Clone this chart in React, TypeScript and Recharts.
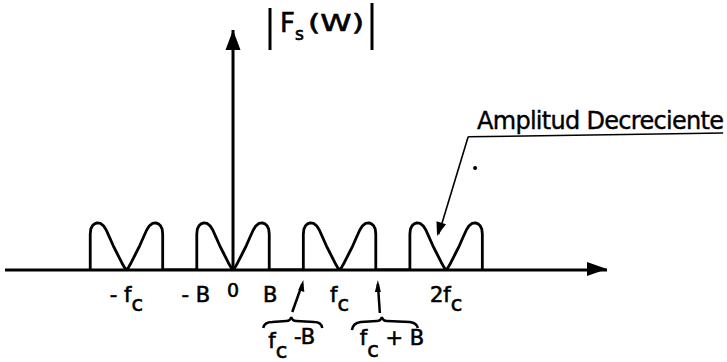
import { ComposedChart, Line, XAxis, YAxis, ReferenceLine, ReferenceDot } from "recharts";

// frequency axis in units of fc, amplitude in units of one lobe peak
const B = 0.35;
const harmonics = [-1, 0, 1, 2];

// left half of one lobe pair (offset from the harmonic, height)
const lobeOffsets = [-0.34, -0.34, -0.335, -0.32, -0.3, -0.275, -0.244, -0.215, -0.19, -0.16, -0.125, -0.085, -0.045, -0.018, 0];
const lobeHeights = [0, 0.76, 0.87, 0.94, 0.98, 1, 0.99, 0.94, 0.85, 0.7, 0.52, 0.34, 0.16, 0.05, 0];

const tickValues = [-1, -B, 0, B, 1 - B, 1, 1 + B, 2];
const tickMain = ["- f", "- B", "0", "B", "f", "f", "f", "2f"];
const tickSub = ["c", "", "", "", "c", "c", "c", "c"];
const tickTail = ["", "", "", "", " -B", "", " + B", ""];

const xDomain = [-2.14, 3.51];
const yDomain = [0, 5.1];

type Pt = { x: number; y: number };
const spectrum: Pt[] = [];
harmonics.forEach((c) => {
  lobeOffsets.forEach((o, i) => spectrum.push({ x: c + o, y: lobeHeights[i] }));
  for (let i = lobeOffsets.length - 2; i >= 0; i--) {
    spectrum.push({ x: c - lobeOffsets[i], y: lobeHeights[i] });
  }
});

const font = "'DejaVu Sans', sans-serif";
const ink = { fill: "#000", stroke: "#000", strokeWidth: 0.6 };

function Tick(props: any) {
  const { x, y, payload, index } = props;
  const i = typeof index === "number" ? index : tickValues.indexOf(payload.value);
  const main = tickMain[i];
  const sub = tickSub[i];
  const tail = tickTail[i];
  if (tail) {
    const minus = tail.includes("-");
    return (
      <g fontFamily={font} fill="#000">
        {minus ? (
          <>
            <line x1={x - 10} y1={y + 42} x2={x} y2={y + 14} stroke="#000" strokeWidth={2.5} />
            <polygon points={`${x + 1},${y + 10} ${x - 4},${y + 20} ${x + 2},${y + 22}`} />
            <path
              d={`M ${x - 39} ${y + 58} Q ${x - 38} ${y + 52} ${x - 30} ${y + 52} L ${x - 16} ${y + 51} Q ${x - 12} ${y + 51} ${x - 11} ${y + 47} Q ${x - 10} ${y + 51} ${x - 6} ${y + 51} L ${x + 12} ${y + 52} Q ${x + 19} ${y + 52} ${x + 20} ${y + 58}`}
              fill="none"
              stroke="#000"
              strokeWidth={2.5}
            />
            <text x={x - 34} y={y + 78} fontSize={21} {...ink}>
              {main}
              <tspan dy={10}>{sub}</tspan>
              <tspan dy={-14}>{tail}</tspan>
            </text>
          </>
        ) : (
          <>
            <line x1={x + 3} y1={y + 43} x2={x + 1} y2={y + 14} stroke="#000" strokeWidth={2.5} />
            <polygon points={`${x + 1},${y + 10} ${x - 2},${y + 22} ${x + 4},${y + 22}`} />
            <path
              d={`M ${x - 25} ${y + 60} Q ${x - 24} ${y + 53} ${x - 16} ${y + 52} L ${x} ${y + 51} Q ${x + 4} ${y + 51} ${x + 5} ${y + 47} Q ${x + 6} ${y + 51} ${x + 10} ${y + 51} L ${x + 33} ${y + 52} Q ${x + 40} ${y + 53} ${x + 41} ${y + 58}`}
              fill="none"
              stroke="#000"
              strokeWidth={2.5}
            />
            <text x={x - 17} y={y + 75} fontSize={21} {...ink}>
              {main}
              <tspan dy={12}>{sub}</tspan>
              <tspan dy={-12}>{tail}</tspan>
            </text>
          </>
        )}
      </g>
    );
  }
  return (
    <text
      x={x}
      y={main === "0" ? y + 27 : y + 32}
      textAnchor="middle"
      fontFamily={font}
      fontSize={main === "0" ? 19 : 21}
      {...ink}
    >
      {main}
      {sub ? <tspan dy={9}>{sub}</tspan> : null}
    </text>
  );
}

const upArrow = (p: any) => (
  <polygon points={`${p.cx},${p.cy} ${p.cx - 7.5},${p.cy + 20} ${p.cx + 7.5},${p.cy + 20}`} fill="#000" />
);
const rightArrow = (p: any) => (
  <polygon points={`${p.cx},${p.cy - 1} ${p.cx - 20},${p.cy - 8} ${p.cx - 20},${p.cy + 6}`} fill="#000" />
);
const leaderArrow = (p: any) => (
  <polygon
    points="0,0 -14,-5 -14,5"
    transform={`translate(${p.cx},${p.cy}) rotate(107.4)`}
    fill="#000"
  />
);

export default function App() {
  return (
    <div style={{ position: "relative", width: 727, height: 362, background: "#fff" }}>
      <style>{`body{margin:0}`}</style>
      <ComposedChart
        width={727}
        height={362}
        data={spectrum}
        margin={{ top: 30, right: 120, bottom: 0, left: 5 }}
      >
        <XAxis
          type="number"
          dataKey="x"
          domain={xDomain}
          allowDataOverflow
          ticks={tickValues}
          interval={0}
          tick={<Tick />}
          tickLine={false}
          tickSize={0}
          tickMargin={0}
          height={92}
          axisLine={{ stroke: "#000", strokeWidth: 3 }}
        />
        <YAxis type="number" domain={yDomain} hide allowDataOverflow />
        <ReferenceLine x={0} stroke="#000" strokeWidth={3} />
        <ReferenceDot x={0} y={5.1} shape={upArrow} ifOverflow="visible" />
        <ReferenceDot x={3.51} y={0} shape={rightArrow} ifOverflow="visible" />
        <Line
          type="linear"
          dataKey="y"
          stroke="#000"
          strokeWidth={2.8}
          strokeLinejoin="round"
          dot={false}
          activeDot={false}
          isAnimationActive={false}
        />
        <ReferenceLine
          segment={[{ x: 2.207, y: 2.83 }, { x: 1.93, y: 0.76 }]}
          stroke="#000"
          strokeWidth={1.6}
          ifOverflow="visible"
        />
        <ReferenceLine
          segment={[{ x: 2.207, y: 2.83 }, { x: 4.6, y: 2.91 }]}
          stroke="#000"
          strokeWidth={1.6}
          ifOverflow="visible"
        />
        <ReferenceDot x={1.915} y={0.72} shape={leaderArrow} ifOverflow="visible" />
        <ReferenceDot x={2.272} y={2.17} r={2} fill="#000" stroke="none" ifOverflow="visible" />
      </ComposedChart>
      <svg
        width={727}
        height={362}
        style={{ position: "absolute", left: 0, top: 0, pointerEvents: "none" }}
        fontFamily={font}
      >
        <line x1={270} y1={8} x2={270} y2={50} stroke="#000" strokeWidth={3} />
        <line x1={372} y1={3} x2={372} y2={50} stroke="#000" strokeWidth={3} />
        <text x={280} y={32} fontSize={26} {...ink}>
          F<tspan fontSize={17} dy={8}>s</tspan>
          <tspan x={308} y={31} fontSize={23} textLength={56} lengthAdjust="spacingAndGlyphs">(W)</tspan>
        </text>
        <text x={477} y={129} fontSize={24} textLength={247} lengthAdjust="spacing" fill="#000" stroke="#000" strokeWidth={0.4}>
          Amplitud Decreciente
        </text>
      </svg>
    </div>
  );
}
